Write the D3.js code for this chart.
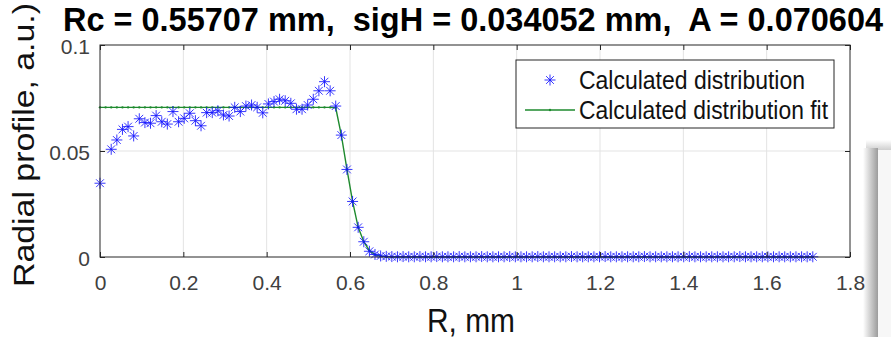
<!DOCTYPE html>
<html>
<head>
<meta charset="utf-8">
<script src="https://cdn.jsdelivr.net/npm/d3@7"></script>
<style>
  body { margin: 0; background: #fff; }
  svg { display: block; font-family: "Liberation Sans", Arial, sans-serif; }
</style>
</head>
<body>
<svg id="chart" width="891" height="337"></svg>
<script>
// Radial sample positions (mm) of the calculated distribution
const radius = [
  0, 0.0269, 0.0404, 0.0539, 0.0674, 0.0808, 0.0943, 0.1078, 0.1212, 0.1347,
  0.1482, 0.1616, 0.1751, 0.1886, 0.2021, 0.2155, 0.2290, 0.2425, 0.2559, 0.2694,
  0.2829, 0.2963, 0.3098, 0.3233, 0.3368, 0.3502, 0.3637, 0.3772, 0.3906, 0.4041,
  0.4176, 0.4310, 0.4445, 0.4580, 0.4715, 0.4849, 0.4984, 0.5119, 0.5253, 0.5388,
  0.5523, 0.5657, 0.5792, 0.5927, 0.6062, 0.6196, 0.6331, 0.6466, 0.6600, 0.6735,
  0.6870, 0.7004, 0.7139, 0.7274, 0.7409, 0.7543, 0.7678, 0.7813, 0.7947, 0.8082,
  0.8217, 0.8351, 0.8486, 0.8621, 0.8756, 0.8890, 0.9025, 0.9160, 0.9294, 0.9429,
  0.9564, 0.9698, 0.9833, 0.9968, 1.0103, 1.0237, 1.0372, 1.0507, 1.0641, 1.0776,
  1.0911, 1.1045, 1.1180, 1.1315, 1.1450, 1.1584, 1.1719, 1.1854, 1.1988, 1.2123,
  1.2258, 1.2392, 1.2527, 1.2662, 1.2797, 1.2931, 1.3066, 1.3201, 1.3335, 1.3470,
  1.3605, 1.3739, 1.3874, 1.4009, 1.4144, 1.4278, 1.4413, 1.4548, 1.4682, 1.4817,
  1.4952, 1.5086, 1.5221, 1.5356, 1.5491, 1.5625, 1.5760, 1.5895, 1.6029, 1.6164,
  1.6299, 1.6433, 1.6568, 1.6703, 1.6838, 1.6972, 1.7107
];

// Calculated radial profile (a.u.)
const profile = [
  0.0348, 0.0508, 0.0552, 0.0602, 0.0615, 0.0571, 0.0652, 0.0634, 0.0631, 0.0667,
  0.0638, 0.0627, 0.0686, 0.0638, 0.0654, 0.0678, 0.0643, 0.0619, 0.0681, 0.0681,
  0.0690, 0.0670, 0.0665, 0.0706, 0.0686, 0.0712, 0.0717, 0.0706, 0.0680, 0.0722,
  0.0733, 0.0744, 0.0737, 0.0725, 0.0697, 0.0697, 0.0717, 0.0744, 0.0784, 0.0827,
  0.0784, 0.0712, 0.0575, 0.0413, 0.0262, 0.0140, 0.0072, 0.0027, 0.0012, 0.0005,
  0.0003, 0.0002, 0.0001, 0.0002, 0.0001, 0.0001, 0.0002, 0.0001, 0.0001, 0.0002,
  0.0001, 0.0001, 0.0001, 0.0002, 0.0001, 0.0001, 0.0001, 0.0002, 0.0001, 0.0001,
  0.0001, 0.0001, 0.0002, 0.0001, 0.0001, 0.0001, 0.0001, 0.0002, 0.0001, 0.0001,
  0.0001, 0.0001, 0.0001, 0.0002, 0.0001, 0.0001, 0.0001, 0.0001, 0.0001, 0.0002,
  0.0001, 0.0001, 0.0001, 0.0001, 0.0001, 0.0001, 0.0002, 0.0001, 0.0001, 0.0001,
  0.0001, 0.0001, 0.0001, 0.0001, 0.0002, 0.0001, 0.0001, 0.0001, 0.0001, 0.0001,
  0.0001, 0.0001, 0.0001, 0.0002, 0.0001, 0.0001, 0.0001, 0.0001, 0.0001, 0.0001,
  0.0001, 0.0001, 0.0001, 0.0001, 0.0001, 0.0001, 0.0001
];

// Fit sample positions (mm) and fitted profile values
const fitRadius = [
  0, 0.0135, 0.0269, 0.0404, 0.0539, 0.0674, 0.0808, 0.0943, 0.1078, 0.1212, 0.1347,
  0.1482, 0.1616, 0.1751, 0.1886, 0.2021, 0.2155, 0.2290, 0.2425, 0.2559, 0.2694,
  0.2829, 0.2963, 0.3098, 0.3233, 0.3368, 0.3502, 0.3637, 0.3772, 0.3906, 0.4041,
  0.4176, 0.4310, 0.4445, 0.4580, 0.4715, 0.4849, 0.4984, 0.5119, 0.5253, 0.5388,
  0.5523, 0.5657, 0.5792, 0.5927, 0.6062, 0.6196, 0.6331, 0.6466, 0.6600, 0.6735,
  0.6870, 0.7004, 0.7139, 0.7274, 0.7409, 0.7543, 0.7678, 0.7813, 0.7947, 0.8082,
  0.8217, 0.8351, 0.8486, 0.8621, 0.8756, 0.8890, 0.9025, 0.9160, 0.9294, 0.9429,
  0.9564, 0.9698, 0.9833, 0.9968, 1.0103, 1.0237, 1.0372, 1.0507, 1.0641, 1.0776,
  1.0911, 1.1045, 1.1180, 1.1315, 1.1450, 1.1584, 1.1719, 1.1854, 1.1988, 1.2123,
  1.2258, 1.2392, 1.2527, 1.2662, 1.2797, 1.2931, 1.3066, 1.3201, 1.3335, 1.3470,
  1.3605, 1.3739, 1.3874, 1.4009, 1.4144, 1.4278, 1.4413, 1.4548, 1.4682, 1.4817,
  1.4952, 1.5086, 1.5221, 1.5356, 1.5491, 1.5625, 1.5760, 1.5895, 1.6029, 1.6164,
  1.6299, 1.6433, 1.6568, 1.6703, 1.6838, 1.6972, 1.7107
];
const fitProfile = [
  0.0706, 0.0706, 0.0706, 0.0706, 0.0706, 0.0706, 0.0706, 0.0706, 0.0706, 0.0706, 0.0706,
  0.0706, 0.0706, 0.0706, 0.0706, 0.0706, 0.0706, 0.0706, 0.0706, 0.0706, 0.0706,
  0.0706, 0.0706, 0.0706, 0.0706, 0.0706, 0.0706, 0.0706, 0.0706, 0.0706, 0.0706,
  0.0706, 0.0706, 0.0706, 0.0706, 0.0706, 0.0706, 0.0706, 0.0706, 0.0706, 0.0706,
  0.0706, 0.0704, 0.0575, 0.0413, 0.0262, 0.0140, 0.0072, 0.0030, 0.0011, 0.0004,
  0.0001, 0, 0, 0, 0, 0, 0, 0, 0, 0,
  0, 0, 0, 0, 0, 0, 0, 0, 0, 0,
  0, 0, 0, 0, 0, 0, 0, 0, 0, 0,
  0, 0, 0, 0, 0, 0, 0, 0, 0, 0,
  0, 0, 0, 0, 0, 0, 0, 0, 0, 0,
  0, 0, 0, 0, 0, 0, 0, 0, 0, 0,
  0, 0, 0, 0, 0, 0, 0, 0, 0, 0,
  0, 0, 0, 0, 0, 0, 0
];

const xTicks = [0, 0.2, 0.4, 0.6, 0.8, 1, 1.2, 1.4, 1.6, 1.8];
const xTickLabels = ["0", "0.2", "0.4", "0.6", "0.8", "1", "1.2", "1.4", "1.6", "1.8"];
const yTicks = [0, 0.05, 0.1];
const yTickLabels = ["0", "0.05", "0.1"];

const titleText = "Rc = 0.55707 mm,  sigH = 0.034052 mm,  A = 0.070604";
const xLabel = "R, mm";
const yLabel = "Radial profile, a.u.)";
const legendLabels = ["Calculated distribution", "Calculated distribution fit"];

const svg = d3.select("#chart");
const plot = { left: 100, right: 850, top: 45, bottom: 257 };
const x = d3.scaleLinear().domain([0, 1.8]).range([plot.left, plot.right]);
const y = d3.scaleLinear().domain([0, 0.1]).range([plot.bottom, plot.top]);

const axisColor = "#262626";
const gridColor = "#e3e3e3";
const starColor = "#1414ff";
const fitColor = "#1e8a2e";

// overlapping window edge at the lower right (kept behind the chart)
const defs = svg.append("defs");
const gr = defs.append("linearGradient").attr("id", "edgeShade").attr("x1", 0).attr("x2", 1);
gr.append("stop").attr("offset", 0).attr("stop-color", "#ffffff");
gr.append("stop").attr("offset", 1).attr("stop-color", "#9c9c9c");
const grTop = defs.append("linearGradient").attr("id", "edgeShadeTop")
  .attr("x1", 0).attr("x2", 0).attr("y1", 0).attr("y2", 1);
grTop.append("stop").attr("offset", 0).attr("stop-color", "#ffffff");
grTop.append("stop").attr("offset", 1).attr("stop-color", "#cfcfcf");
svg.append("rect").attr("x", 866).attr("y", 140).attr("width", 25).attr("height", 10)
  .attr("fill", "url(#edgeShadeTop)");
svg.append("rect").attr("x", 863).attr("y", 148).attr("width", 15).attr("height", 189)
  .attr("fill", "url(#edgeShade)");
svg.append("rect").attr("x", 878).attr("y", 150).attr("width", 13).attr("height", 187)
  .attr("fill", "#f7f7f7");

// grid
svg.append("g").selectAll("line").data(xTicks.slice(1, -1)).join("line")
  .attr("x1", d => x(d)).attr("x2", d => x(d))
  .attr("y1", plot.top).attr("y2", plot.bottom)
  .attr("stroke", gridColor).attr("stroke-width", 1);
svg.append("g").selectAll("line").data(yTicks.slice(1, -1)).join("line")
  .attr("x1", plot.left).attr("x2", plot.right)
  .attr("y1", d => y(d)).attr("y2", d => y(d))
  .attr("stroke", gridColor).attr("stroke-width", 1);

// fit line with small point markers
const fitPts = fitRadius.map((r, i) => [r, fitProfile[i]]);
svg.append("path").datum(fitPts)
  .attr("fill", "none").attr("stroke", fitColor).attr("stroke-width", 1.4)
  .attr("d", d3.line().x(d => x(d[0])).y(d => y(d[1])));
svg.append("g").selectAll("circle").data(fitPts).join("circle")
  .attr("cx", d => x(d[0])).attr("cy", d => y(d[1])).attr("r", 1.2)
  .attr("fill", fitColor);

// asterisk markers
function star(g, cx, cy, r) {
  const p = [];
  for (let k = 0; k < 4; k++) {
    const a = k * Math.PI / 4;
    const dx = r * Math.cos(a), dy = r * Math.sin(a);
    p.push(`M${cx - dx},${cy - dy}L${cx + dx},${cy + dy}`);
  }
  g.append("path").attr("d", p.join("")).attr("stroke", starColor)
    .attr("stroke-width", 1).attr("fill", "none").attr("stroke-opacity", 0.85);
}
const stars = svg.append("g");
radius.forEach((r, i) => star(stars, x(r), y(profile[i]), 5.5));

// axes box
svg.append("rect").attr("x", plot.left).attr("y", plot.top)
  .attr("width", plot.right - plot.left).attr("height", plot.bottom - plot.top)
  .attr("fill", "none").attr("stroke", axisColor).attr("stroke-width", 1);

const xAxis = svg.append("g").attr("transform", `translate(0,${plot.bottom})`)
  .call(d3.axisBottom(x).tickValues(xTicks).tickFormat((d, i) => xTickLabels[i])
    .tickSize(-5).tickPadding(18));
const xAxisTop = svg.append("g").attr("transform", `translate(0,${plot.top})`)
  .call(d3.axisTop(x).tickValues(xTicks).tickFormat("").tickSize(-5));
const yAxis = svg.append("g").attr("transform", `translate(${plot.left},0)`)
  .call(d3.axisLeft(y).tickValues(yTicks).tickFormat((d, i) => yTickLabels[i])
    .tickSize(-5).tickPadding(10));
const yAxisRight = svg.append("g").attr("transform", `translate(${plot.right},0)`)
  .call(d3.axisRight(y).tickValues(yTicks).tickFormat("").tickSize(-5));
[xAxis, xAxisTop, yAxis, yAxisRight].forEach(a => {
  a.select(".domain").remove();
  a.selectAll(".tick line").attr("stroke", axisColor);
  a.selectAll("text").attr("font-family", "Liberation Sans, Arial, sans-serif")
    .attr("font-size", 21).attr("fill", "#404040");
});
yAxis.selectAll("text").attr("dy", "0.42em");

// axis labels
svg.append("text").attr("x", 471).attr("y", 331.5).attr("text-anchor", "middle")
  .attr("font-size", 33).attr("fill", "#111")
  .attr("textLength", 88).attr("lengthAdjust", "spacingAndGlyphs")
  .text(xLabel);
svg.append("text").attr("transform", "translate(33.5,145) rotate(-90)")
  .attr("text-anchor", "middle").attr("font-size", 30).attr("fill", "#111")
  .attr("textLength", 284).attr("lengthAdjust", "spacingAndGlyphs")
  .text(yLabel);

// title: narrow bold font, slightly stretched vertically
svg.append("text").attr("transform", "translate(473,30.5) scale(1,1.03)")
  .attr("text-anchor", "middle")
  .attr("font-size", 32.5).attr("font-weight", "bold").attr("fill", "#000")
  .style("white-space", "pre")
  .attr("textLength", 820).attr("lengthAdjust", "spacingAndGlyphs")
  .text(titleText);

// legend
const lg = svg.append("g");
lg.append("rect").attr("x", 516).attr("y", 60).attr("width", 318).attr("height", 68)
  .attr("fill", "#fff").attr("stroke", axisColor).attr("stroke-width", 1);
star(lg, 550, 80, 5.5);
lg.append("line").attr("x1", 525).attr("x2", 575).attr("y1", 110).attr("y2", 110)
  .attr("stroke", fitColor).attr("stroke-width", 1.4);
lg.append("circle").attr("cx", 550).attr("cy", 110).attr("r", 1.2).attr("fill", fitColor);
lg.selectAll("text.lab").data(legendLabels).join("text").attr("class", "lab")
  .attr("x", 579).attr("y", (d, i) => 89 + i * 30)
  .attr("font-size", 25).attr("fill", "#111")
  .attr("textLength", (d, i) => i === 0 ? 226 : 249).attr("lengthAdjust", "spacingAndGlyphs")
  .text(d => d);
</script>
</body>
</html>
